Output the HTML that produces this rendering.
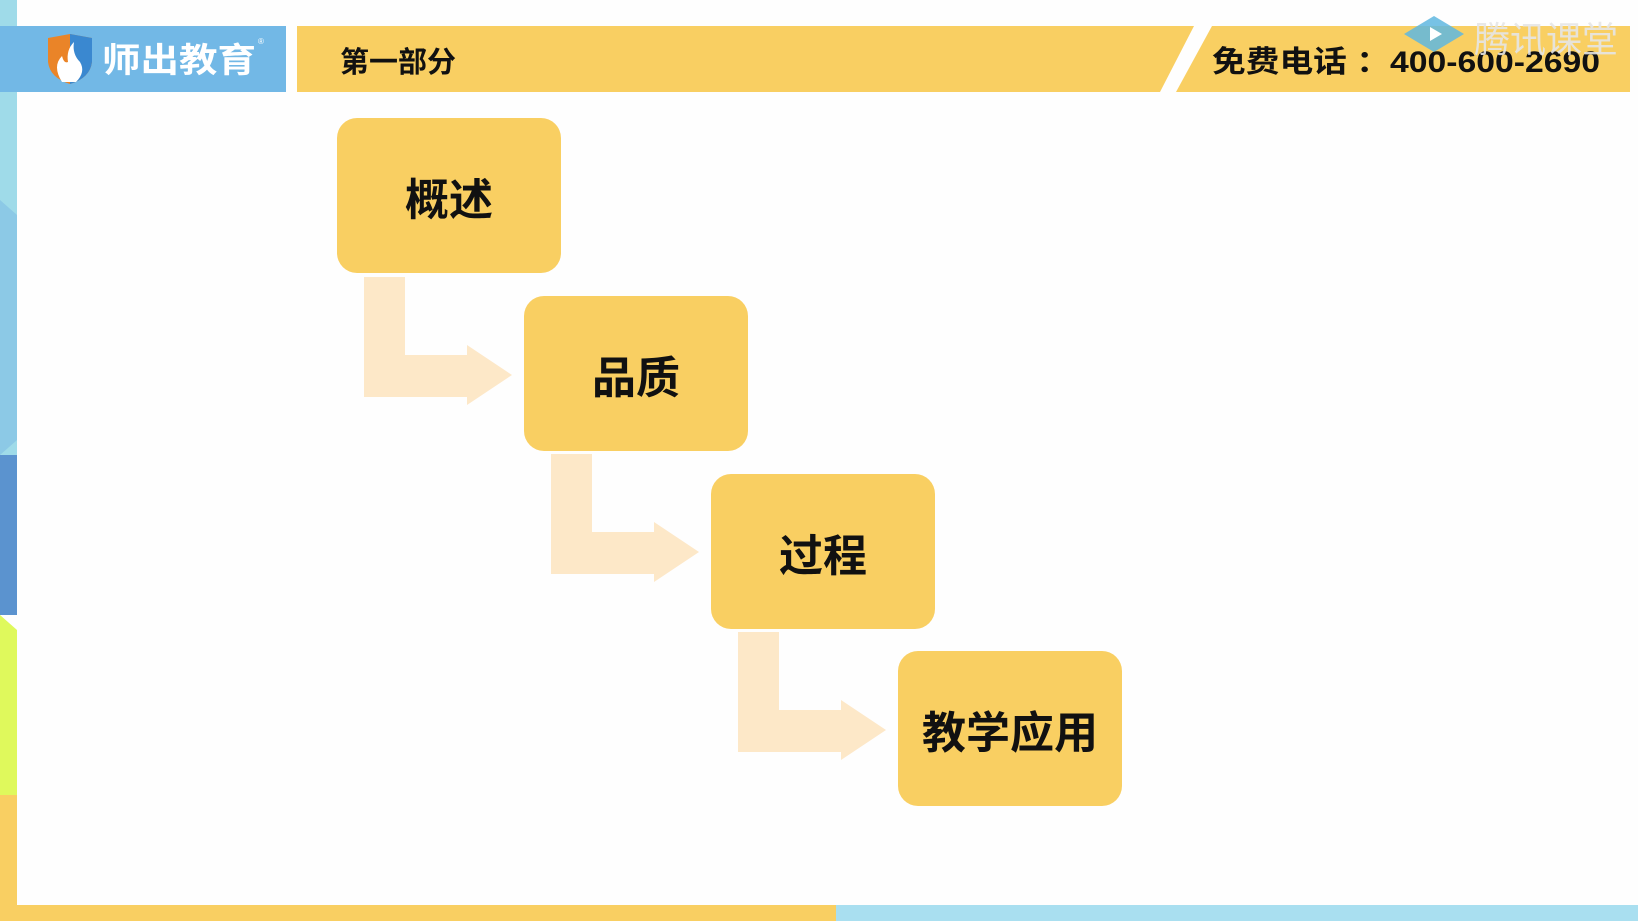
<!DOCTYPE html>
<html><head><meta charset="utf-8"><style>
html,body{margin:0;padding:0;background:#fff;}
body{width:1638px;height:921px;position:relative;overflow:hidden;font-family:"Liberation Sans","Noto Sans CJK SC",sans-serif;}
svg{position:absolute;left:0;top:0;}
</style></head><body>
<svg width="1638" height="921" viewBox="0 0 1638 921">
<rect width="1638" height="921" fill="#fefefe"/>
<!-- left strip -->
<rect x="0" y="0" width="17" height="460" fill="#9fdbe9"/>
<polygon points="0,200 17,215 17,440 0,455" fill="#8cc9e6"/>
<rect x="0" y="455" width="17" height="160" fill="#5b93cf"/>
<polygon points="0,615 17,630 17,795 0,795" fill="#dff95c"/>
<rect x="0" y="795" width="17" height="126" fill="#f9cf62"/>
<!-- bottom bar -->
<rect x="0" y="905" width="836" height="16" fill="#f9cf62"/>
<rect x="836" y="905" width="802" height="16" fill="#a9dff0"/>
<!-- header -->
<rect x="0" y="26" width="286" height="66" fill="#72b8e6"/>
<path d="M48,38 L70,34 L92,38 L92,62 Q90,78 70,84 Q50,78 48,62 Z" fill="#ea8428"/>
<path d="M70,34 L92,38 L92,62 Q90,78 70,84 Z" fill="#3a88d0"/>
<path d="M62,82 Q52,66 62,56 Q64,64 68,62 Q66,50 74,42 Q72,54 80,62 Q86,72 76,82 Z" fill="#fff"/>
<text x="102" y="72" font-size="34" font-weight="bold" fill="#fff" textLength="154" lengthAdjust="spacingAndGlyphs" font-family="Liberation Sans,'Noto Sans CJK SC',sans-serif">师出教育</text>
<text x="258" y="44" font-size="8" fill="#fff">®</text>
<polygon points="297,26 1194,26 1160,92 297,92" fill="#f9cf62"/>
<polygon points="1212,26 1630,26 1630,92 1176,92" fill="#f9cf62"/>
<text x="340" y="72" font-size="29" font-weight="bold" fill="#111" font-family="Liberation Sans,'Noto Sans CJK SC',sans-serif">第一部分</text>
<text x="1212" y="72" font-size="30" font-weight="bold" fill="#111" textLength="388" lengthAdjust="spacingAndGlyphs" font-family="Liberation Sans,'Noto Sans CJK SC',sans-serif">免费电话 ：400-600-2690</text>
<!-- watermark -->
<polygon points="1434,16 1464,34 1434,52 1404,34" fill="#5fb7e0" opacity="0.85"/>
<polygon points="1430,27 1442,34 1430,41" fill="#fff"/>
<text x="1474" y="52" font-size="36" fill="#e6e6e6" opacity="0.9" font-family="Liberation Sans,'Noto Sans CJK SC',sans-serif">腾讯课堂</text>
<!-- arrows -->
<g fill="#fde8c8">
<path d="M364,277 H405 V355 H467 V345 L512,375 L467,405 V397 H364 Z"/>
<path d="M551,454 H592 V532 H654 V522 L699,552 L654,582 V574 H551 Z"/>
<path d="M738,632 H779 V710 H841 V700 L886,730 L841,760 V752 H738 Z"/>
</g>
<!-- boxes -->
<g fill="#f9cf62">
<rect x="337" y="118" width="224" height="155" rx="20"/>
<rect x="524" y="296" width="224" height="155" rx="20"/>
<rect x="711" y="474" width="224" height="155" rx="20"/>
<rect x="898" y="651" width="224" height="155" rx="20"/>
</g>
<g font-size="44" font-weight="bold" fill="#111" text-anchor="middle" font-family="Liberation Sans,'Noto Sans CJK SC',sans-serif">
<text x="449" y="215">概述</text>
<text x="636" y="393">品质</text>
<text x="823" y="571">过程</text>
<text x="1010" y="748">教学应用</text>
</g>
</svg>
</body></html>
